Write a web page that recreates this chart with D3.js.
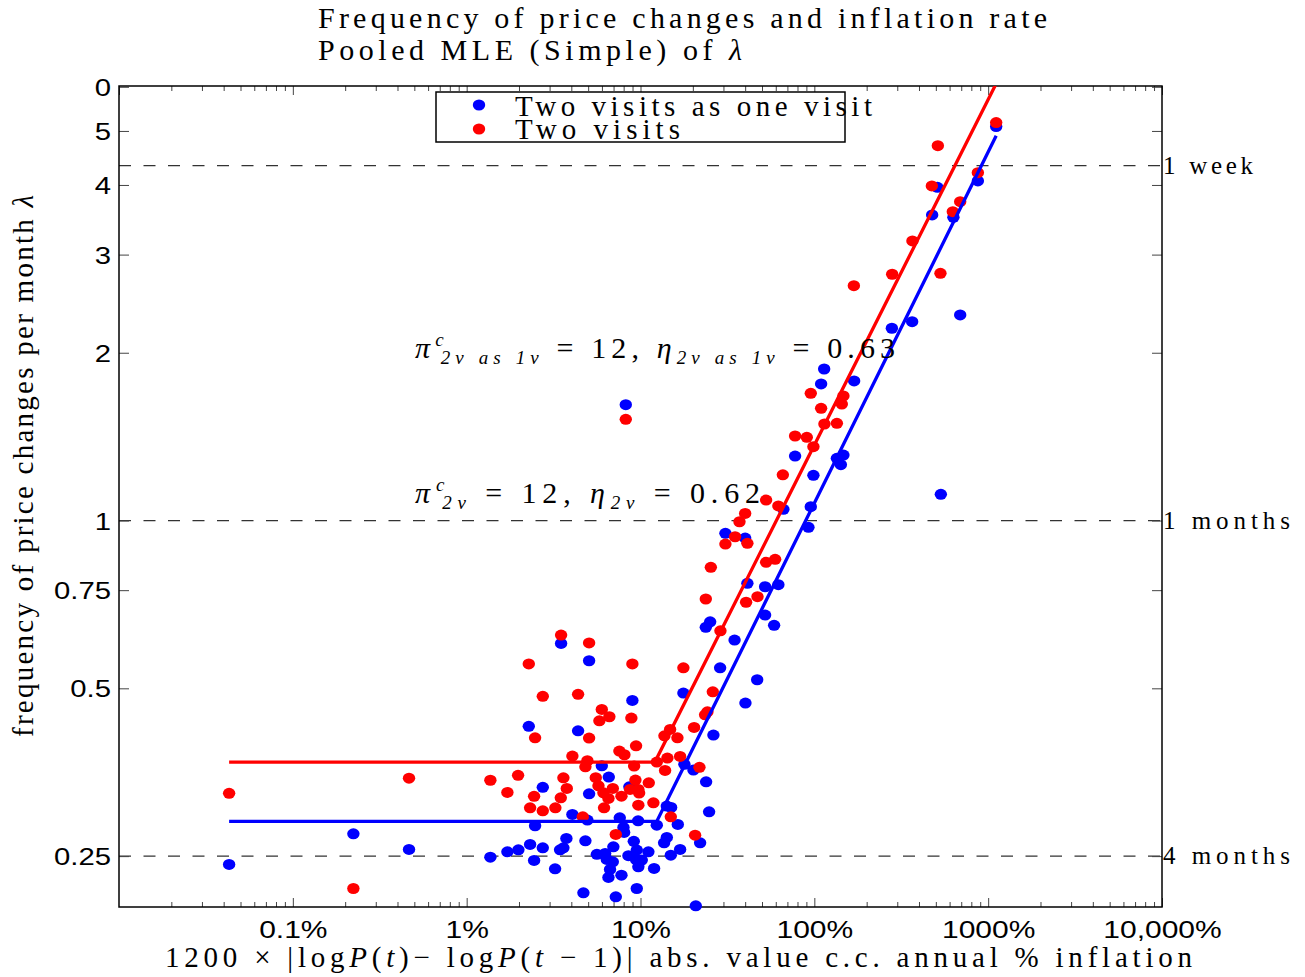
<!DOCTYPE html>
<html><head><meta charset="utf-8">
<script src="https://cdn.jsdelivr.net/npm/d3@7"></script>
<style>body{margin:0;background:#fff}svg{display:block}</style>
</head><body>
<svg id="chart" width="1305" height="977"></svg>
<script>
// ---------- data ----------
const blueX = [0.043,0.223,0.466,1.369,3.493,5.062,8.98,2.277,4.375,5.99,6.57,2.741,5.062,8.63,4.057,4.949,2.475,7.60,7.98,9.69,8.05,3.747,4.82,9.15,2.317,2.741,1.984,1.715,3.446,3.601,6.98,5.61,6.26,6.40,8.52,9.52,2.443,3.226,6.93,6.68,7.77,6.54,9.43,9.72,4.694,7.21,9.52,23.75,25.16,58.7,34.77,28.71,17.65,46.9,40.15,26.27,17.89,20.16,23.85,24.81,14.17,15.0,12.41,16.39,14.17,13.67,22.03,16.90,14.94,11.10,10.17,11.97,20.8,113.9,109.4,77.5,98.8,134.8,147.0,142.1,66.4,95.4,92.5,30.8,40.0,41.2,52.1,62.1,52.1,8.23,169.4,279.3,365.3,690.3,1112,510.8,872.4,476.2,631.0,534.3];
const blueY = [0.2416,0.2741,0.257,0.2489,0.602,0.5603,0.4757,0.4273,0.4195,0.3631,0.3465,0.3321,0.3234,0.3329,0.297,0.2901,0.2834,0.2929,0.2815,0.2893,0.2757,0.269,0.2663,0.2657,0.2624,0.2587,0.2566,0.2545,0.2566,0.2587,0.2598,0.2518,0.2528,0.2466,0.2504,0.2563,0.2456,0.2372,0.2442,0.2366,0.2311,0.2289,0.2464,0.2392,0.2148,0.2113,0.2187,0.6432,0.6582,0.6485,0.6103,0.5443,0.4903,0.518,0.4705,0.4122,0.3652,0.3567,0.3398,0.3002,0.3074,0.3057,0.2841,0.285,0.2701,0.2641,0.2641,0.257,0.2510,0.2545,0.2459,0.2376,0.2036,1.870,1.758,1.3053,1.2053,1.2932,1.3108,1.2593,1.0474,1.0587,0.9723,0.9485,0.9302,0.7716,0.7607,0.7672,0.6767,1.6137,1.780,2.213,2.274,2.338,5.09,3.962,4.067,3.534,3.50,1.1143];
const redX = [0.043,0.466,0.223,1.369,3.493,5.062,2.277,8.98,2.741,4.375,5.99,5.80,6.62,8.86,2.475,5.062,4.057,4.949,4.82,7.56,8.08,9.43,9.19,1.976,1.715,3.601,5.53,2.443,3.767,3.479,2.317,2.741,3.238,5.73,6.12,6.93,6.54,7.77,8.71,9.35,6.17,4.656,7.21,9.72,9.82,28.83,17.65,26.06,24.27,23.53,20.34,14.80,13.73,16.31,12.41,14.28,16.90,13.85,21.83,11.16,9.72,11.86,14.94,20.61,95.4,109.4,114.3,77.5,90.5,98.8,65.9,52.8,62.1,40.0,37.1,35.0,30.8,41.2,25.39,52.8,59.5,23.75,40.5,47.1,8.23,147.0,143.9,134.8,1112,513.5,872.4,474.3,690.3,626.1,366.7,280.4,531.5,168.8];
const redY = [0.324,0.345,0.2187,0.342,0.623,0.603,0.553,0.553,0.4837,0.4877,0.4583,0.4372,0.4446,0.4422,0.4076,0.4071,0.378,0.3707,0.3616,0.3858,0.38,0.3943,0.3626,0.349,0.3253,0.3455,0.3457,0.32,0.3307,0.318,0.3052,0.3015,0.3052,0.3342,0.3247,0.3307,0.3173,0.3203,0.3293,0.3422,0.3052,0.2941,0.2734,0.3086,0.3243,0.6342,0.5443,0.4929,0.4538,0.4482,0.4255,0.422,0.411,0.4076,0.3687,0.3748,0.3774,0.3562,0.3607,0.3384,0.3293,0.3116,0.2941,0.2726,1.691,1.590,1.490,1.418,1.410,1.357,1.208,1.088,1.062,1.030,0.995,0.9352,0.9075,0.9101,0.8241,0.8414,0.8519,0.7231,0.7135,0.7300,1.519,1.673,1.618,1.494,5.175,4.705,4.208,3.984,3.733,3.582,3.174,2.766,2.777,2.638];
// fitted piecewise lines (vertices)
const redLineX = [0.043, 12.1, 1112];
const redLineY = [0.3687, 0.3687, 6.08];
const blueLineX = [0.043, 12.4, 1112];
const blueLineY = [0.2885, 0.2885, 4.90];
// axes
const xTickVals = [0.1, 1, 10, 100, 1000, 10000];
const xTickLabels = ["0.1%", "1%", "10%", "100%", "1000%", "10,000%"];
const yTickVals = [0.25, 0.5, 0.75, 1, 2, 3, 4, 5, 6];
const yTickLabels = ["0.25", "0.5", "0.75", "1", "2", "3", "4", "5", "0"];
const refVals = [4.333, 1, 0.25];
const refLabels = ["1 week", "1 months", "4 months"];
const seriesNames = ["Two visits as one visit", "Two visits"];
const xDomain = [0.01, 10000];
const yDomain = [0.2026, 6.02];

// ---------- layout ----------
const L = 119, R = 1162, T = 86, B = 907;
const svg = d3.select("#chart");
const x = d3.scaleLog().domain(xDomain).range([L, R]);
const y = d3.scaleLog().base(2).domain(yDomain).range([B, T]);
const BLUE = "#0000ff", RED = "#ff0000";
const SERIF = "'Liberation Serif','Times New Roman',serif";
const SANS = "'Liberation Sans',Arial,Helvetica,sans-serif";

svg.append("rect").attr("width",1305).attr("height",977).attr("fill","#fff");
svg.append("defs").append("clipPath").attr("id","clip")
  .append("rect").attr("x",L).attr("y",T).attr("width",R-L).attr("height",B-T);

function fitSpacing(sel, target) {
  const node = sel.node();
  const w = node.getComputedTextLength();
  const n = node.textContent.length;
  sel.attr("letter-spacing", ((target - w) / Math.max(1, n - 1)).toFixed(3));
}
function stretch(sel, f) {
  sel.each(function() {
    const w = this.getComputedTextLength();
    d3.select(this).attr("textLength", w * f).attr("lengthAdjust", "spacingAndGlyphs");
  });
}

// ---------- reference dashed lines ----------
svg.append("g").selectAll("line").data(refVals).join("line")
  .attr("x1", L).attr("x2", R).attr("y1", d => y(d)).attr("y2", d => y(d))
  .attr("stroke", "#333").attr("stroke-width", 1.2).attr("stroke-dasharray", "12,12.5");

// ---------- axes ----------
const minorX = [];
for (let e = -2; e < 4; e++) for (let m = 2; m <= 9; m++) minorX.push(m * Math.pow(10, e));
const majorXAll = [0.01, 0.1, 1, 10, 100, 1000, 10000];

function styleAxis(g) {
  g.select(".domain").remove();
  g.selectAll(".tick line").attr("stroke", "#444").attr("stroke-width", 1);
}
// bottom
svg.append("g").attr("transform", `translate(0,${B})`)
  .call(d3.axisBottom(x).tickValues(minorX).tickSizeInner(-5).tickFormat(""))
  .call(styleAxis);
const xAxisG = svg.append("g").attr("transform", `translate(0,${B})`)
  .call(d3.axisBottom(x).tickValues(xTickVals).tickSizeInner(-9).tickPadding(14)
        .tickFormat((d, i) => xTickLabels[i]))
  .call(styleAxis);
xAxisG.selectAll("text").attr("font-family", SANS).attr("font-size", 24).attr("fill", "#000");
stretch(xAxisG.selectAll("text"), 1.25);
// top
svg.append("g").attr("transform", `translate(0,${T})`)
  .call(d3.axisTop(x).tickValues(minorX).tickSizeInner(-5).tickFormat(""))
  .call(styleAxis);
svg.append("g").attr("transform", `translate(0,${T})`)
  .call(d3.axisTop(x).tickValues(majorXAll).tickSizeInner(-9).tickFormat(""))
  .call(styleAxis);
// left
const yAxisG = svg.append("g").attr("transform", `translate(${L},0)`)
  .call(d3.axisLeft(y).tickValues(yTickVals).tickSizeInner(-10).tickPadding(8)
        .tickFormat((d, i) => yTickLabels[i]))
  .call(styleAxis);
yAxisG.selectAll("text").attr("font-family", SANS).attr("font-size", 24).attr("fill", "#000").attr("dy", "0.36em");
stretch(yAxisG.selectAll("text"), 1.22);
// right
svg.append("g").attr("transform", `translate(${R},0)`)
  .call(d3.axisRight(y).tickValues(yTickVals).tickSizeInner(-10).tickFormat(""))
  .call(styleAxis);

// frame
svg.append("rect").attr("x", L).attr("y", T).attr("width", R - L).attr("height", B - T)
  .attr("fill", "none").attr("stroke", "#000").attr("stroke-width", 1.5);

// right reference labels
refVals.forEach((v, i) => {
  const t = svg.append("text").attr("x", R + 1).attr("y", y(v) + 8)
    .attr("font-family", SERIF).attr("font-size", 25).attr("fill", "#000").text(refLabels[i]);
  fitSpacing(t, i === 0 ? 90 : 127);
});

// ---------- points ----------
const blueData = blueX.map((d, i) => [d, blueY[i]]);
const redData = redX.map((d, i) => [d, redY[i]]);
svg.append("g").selectAll("ellipse").data(blueData).join("ellipse")
  .attr("cx", d => x(d[0])).attr("cy", d => y(d[1])).attr("rx", 6.2).attr("ry", 5.5).attr("fill", BLUE);
svg.append("g").selectAll("ellipse").data(redData).join("ellipse")
  .attr("cx", d => x(d[0])).attr("cy", d => y(d[1])).attr("rx", 6.2).attr("ry", 5.5).attr("fill", RED);

// ---------- fitted lines ----------
const lineGen = d3.line().x(d => x(d[0])).y(d => y(d[1]));
const lg = svg.append("g").attr("clip-path", "url(#clip)");
lg.append("path").datum(redLineX.map((d, i) => [d, redLineY[i]]))
  .attr("d", lineGen).attr("fill", "none").attr("stroke", RED).attr("stroke-width", 3.3);
lg.append("path").datum(blueLineX.map((d, i) => [d, blueLineY[i]]))
  .attr("d", lineGen).attr("fill", "none").attr("stroke", BLUE).attr("stroke-width", 3.3);

// ---------- annotations ----------
function annot(xp, yp, sub, val, target) {
  const t = svg.append("text").attr("x", xp).attr("y", yp)
    .attr("font-family", SERIF).attr("font-size", 30).attr("fill", "#000");
  t.append("tspan").attr("font-style", "italic").text("π");
  t.append("tspan").attr("font-style", "italic").attr("font-size", 19).attr("dy", -12).text("c");
  t.append("tspan").attr("font-style", "italic").attr("font-size", 19).attr("dy", 18).attr("dx", -8).text(sub);
  t.append("tspan").attr("dy", -6).text(" = 12, ");
  t.append("tspan").attr("font-style", "italic").text("η");
  t.append("tspan").attr("font-style", "italic").attr("font-size", 19).attr("dy", 6).text(sub);
  t.append("tspan").attr("dy", -6).text(" = " + val);
  fitSpacing(t, target);
}
annot(415, 358, "2v as 1v", "0.63", 488);
annot(415, 503, "2v", "0.62", 353);

// ---------- titles ----------
const t1 = svg.append("text").attr("x", 318).attr("y", 28).attr("font-family", SERIF)
  .attr("font-size", 30).attr("fill", "#000").text("Frequency of price changes and inflation rate");
fitSpacing(t1, 729);
const t2 = svg.append("text").attr("x", 318).attr("y", 60).attr("font-family", SERIF)
  .attr("font-size", 30).attr("fill", "#000");
t2.append("tspan").text("Pooled MLE (Simple) of ");
t2.append("tspan").attr("font-style", "italic").text("λ");
fitSpacing(t2, 424);

// y label
const yl = svg.append("text").attr("transform", "translate(33,737) rotate(-90)")
  .attr("font-family", SERIF).attr("font-size", 29).attr("fill", "#000");
yl.append("tspan").text("frequency of price changes per month ");
yl.append("tspan").attr("font-style", "italic").text("λ");
fitSpacing(yl, 542);

// x label
const xl = svg.append("text").attr("x", 165).attr("y", 967)
  .attr("font-family", SERIF).attr("font-size", 29).attr("fill", "#000");
[["1200 × |log", 0], ["P", 1], ["(", 0], ["t", 1], [")− log", 0], ["P", 1], ["(", 0], ["t", 1],
 [" − 1)| abs. value c.c. annual % inflation", 0]].forEach(([s, it]) => {
  xl.append("tspan").attr("font-style", it ? "italic" : "normal").text(s);
});
fitSpacing(xl, 1027);

// ---------- legend ----------
const leg = svg.append("g");
leg.append("rect").attr("x", 436).attr("y", 92).attr("width", 409).attr("height", 50)
  .attr("fill", "#fff").attr("stroke", "#000").attr("stroke-width", 1.5);
[[BLUE, 105, 116, 357], [RED, 129, 139, 165]].forEach(([c, cy, by, w], i) => {
  leg.append("ellipse").attr("cx", 479).attr("cy", cy).attr("rx", 6.2).attr("ry", 5.5).attr("fill", c);
  const tt = leg.append("text").attr("x", 515).attr("y", by).attr("font-family", SERIF)
    .attr("font-size", 29).attr("fill", "#000").text(seriesNames[i]);
  fitSpacing(tt, w);
});
</script>
</body></html>
